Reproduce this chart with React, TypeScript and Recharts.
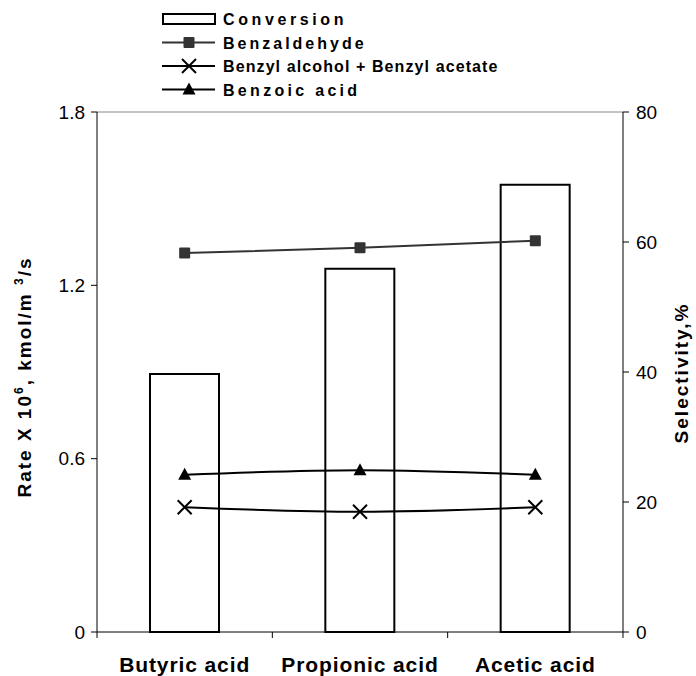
import React from 'react';
import {
    ComposedChart, Bar, Line, XAxis, YAxis, ReferenceLine, Legend
} from 'recharts';

// categories on the x axis
const categories = ['Butyric acid', 'Propionic acid', 'Acetic acid'];
const conversion = [0.893, 1.257, 1.548];
// selectivities, %
const benzaldehyde = [58.3, 59.1, 60.2];
const benzylAlcoholAcetate = [19.2, 18.5, 19.2];
const benzoicAcid = [24.2, 24.9, 24.2];
// axis ticks
const rateTicks = [0, 0.6, 1.2, 1.8];
const selectivityTicks = [0, 20, 40, 60, 80];

const data = categories.map((name, i) => ({
    name,
    conversion: conversion[i],
    benzaldehyde: benzaldehyde[i],
    benzyl: benzylAlcoholAcetate[i],
    benzoic: benzoicAcid[i],
}));

const FONT = 'Arial, "Liberation Sans", sans-serif';
const CHART_W = 696;
const LEFT_AXIS_W = 97;
const RIGHT_AXIS_W = 73;
const PLOT_W = CHART_W - LEFT_AXIS_W - RIGHT_AXIS_W;

const SquareDot = (props: any) => {
    const { cx, cy } = props;
    if (cx == null || cy == null) return null;
    return <rect x={cx - 5.5} y={cy - 5.5} width={11} height={11} rx={1} fill="#333" />;
};

const CrossDot = (props: any) => {
    const { cx, cy } = props;
    if (cx == null || cy == null) return null;
    return (
        <g stroke="#000" strokeWidth={2}>
            <line x1={cx - 7} y1={cy - 7} x2={cx + 7} y2={cy + 7} />
            <line x1={cx - 7} y1={cy + 7} x2={cx + 7} y2={cy - 7} />
        </g>
    );
};

const TriangleDot = (props: any) => {
    const { cx, cy } = props;
    if (cx == null || cy == null) return null;
    return <polygon points={`${cx},${cy - 7} ${cx + 6.5},${cy + 5} ${cx - 6.5},${cy + 5}`} fill="#000" />;
};

// Excel spreads the legend letters unevenly, so spacing is per row
const legendRows = [
    { label: 'Conversion', kind: 'bar', spacing: 3.6 },
    { label: 'Benzaldehyde', kind: 'square', spacing: 3 },
    { label: 'Benzyl alcohol + Benzyl acetate', kind: 'cross', spacing: 1.1 },
    { label: 'Benzoic acid', kind: 'triangle', spacing: 3.3 },
];

const LegendBox = () => (
    <svg width={380} height={100} style={{ overflow: 'visible' }}>
        {legendRows.map((r, i) => {
            const y = 14 + i * 23.5;
            return (
                <g key={r.label}>
                    {r.kind === 'bar' ? (
                        <rect x={4} y={y - 5} width={52} height={10} fill="#fff" stroke="#000" strokeWidth={2} />
                    ) : (
                        <line x1={3} y1={y} x2={56} y2={y} stroke={r.kind === 'square' ? '#333' : '#000'} strokeWidth={2} />
                    )}
                    {r.kind === 'square' && <SquareDot cx={30} cy={y} />}
                    {r.kind === 'cross' && <CrossDot cx={30} cy={y} />}
                    {r.kind === 'triangle' && <TriangleDot cx={30} cy={y} />}
                    <text x={64} y={y + 6} fontFamily={FONT} fontWeight="bold" fontSize={16}
                        letterSpacing={r.spacing} fill="#000">{r.label}</text>
                </g>
            );
        })}
    </svg>
);

// category label plus the tick marks on the band edges
const CategoryTick = (props: any) => {
    const { x, y, payload, index, visibleTicksCount } = props;
    const count = visibleTicksCount || categories.length;
    const half = PLOT_W / count / 2;
    return (
        <g>
            <line x1={x - half} y1={y} x2={x - half} y2={y + 6} stroke="#000" strokeWidth={1} />
            {index === count - 1 && (
                <line x1={x + half} y1={y} x2={x + half} y2={y + 6} stroke="#000" strokeWidth={1} />
            )}
            <text x={x} y={y + 40} textAnchor="middle" fontFamily={FONT} fontWeight="bold"
                fontSize={21} letterSpacing={0.9} fill="#000">{payload.value}</text>
        </g>
    );
};

const RateTitle = (props: any) => {
    const vb = props.viewBox || {};
    const cx = 31;
    const cy = vb.y + vb.height / 2 + 5;
    return (
        <text transform={`translate(${cx},${cy}) rotate(-90)`} textAnchor="middle" fontFamily={FONT}
            fontWeight="bold" fontSize={19} letterSpacing={2} fill="#000">
            Rate X 10<tspan fontSize={12} dy={-8}>6</tspan>
            <tspan dy={8}>, kmol/m </tspan>
            <tspan fontSize={12} dy={-8}>3</tspan>
            <tspan dy={8}>/s</tspan>
        </text>
    );
};

const SelectivityTitle = (props: any) => {
    const vb = props.viewBox || {};
    const cx = 688;
    const cy = vb.y + vb.height / 2 + 1;
    return (
        <text transform={`translate(${cx},${cy}) rotate(-90)`} textAnchor="middle" fontFamily={FONT}
            fontWeight="bold" fontSize={19} letterSpacing={2} fill="#000">
            Selectivity,%
        </text>
    );
};

const App = () => {
    const tickStyle = { fontSize: 19, fill: '#000', fontFamily: FONT };
    return (
        <div style={{ position: 'absolute', left: 0, top: 0, width: CHART_W, height: 676, background: '#fff' }}>
            <ComposedChart width={CHART_W} height={676} data={data}
                margin={{ top: 112, right: 0, bottom: 0, left: 0 }}>
                <XAxis dataKey="name" height={44} tickLine={false} tickSize={0} tickMargin={0}
                    axisLine={{ stroke: '#000', strokeWidth: 1 }} interval={0} tick={<CategoryTick />} />
                <YAxis yAxisId="left" orientation="left" width={LEFT_AXIS_W} domain={[0, 1.8]} ticks={rateTicks}
                    tick={tickStyle} tickSize={6} tickMargin={6}
                    tickLine={{ stroke: '#000' }} axisLine={{ stroke: '#000' }}
                    label={{ content: RateTitle }} />
                <YAxis yAxisId="right" orientation="right" width={RIGHT_AXIS_W} domain={[0, 80]} ticks={selectivityTicks}
                    tick={tickStyle} tickSize={6} tickMargin={7}
                    tickLine={{ stroke: '#000' }} axisLine={{ stroke: '#000' }}
                    label={{ content: SelectivityTitle }} />
                <ReferenceLine yAxisId="right" y={80} stroke="#888" strokeWidth={1} />
                <Bar yAxisId="left" dataKey="conversion" name="Conversion" barSize={69}
                    fill="#fff" stroke="#000" strokeWidth={2} isAnimationActive={false} />
                <Line yAxisId="right" type="linear" dataKey="benzaldehyde" name="Benzaldehyde"
                    stroke="#333" strokeWidth={2} dot={<SquareDot />} activeDot={false} isAnimationActive={false} />
                <Line yAxisId="right" type="natural" dataKey="benzyl" name="Benzyl alcohol + Benzyl acetate"
                    stroke="#000" strokeWidth={2} dot={<CrossDot />} activeDot={false} isAnimationActive={false} />
                <Line yAxisId="right" type="natural" dataKey="benzoic" name="Benzoic acid"
                    stroke="#000" strokeWidth={2} dot={<TriangleDot />} activeDot={false} isAnimationActive={false} />
                <Legend layout="horizontal" verticalAlign="middle" align="center"
                    wrapperStyle={{ top: 5, left: 159, width: 380, height: 100 }}
                    content={() => <LegendBox />} />
            </ComposedChart>
        </div>
    );
};

export default App;
